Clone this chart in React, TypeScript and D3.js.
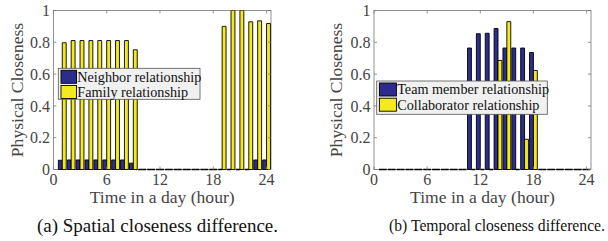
import * as d3 from 'd3';

// hours of the day (categories)
const hours = [1, 2, 3, 4, 5, 6, 7, 8, 9, 10, 11, 12, 13, 14, 15, 16, 17, 18, 19, 20, 21, 22, 23, 24];
const xTicks = [0, 6, 12, 18, 24];
const yTicks = [0, 0.2, 0.4, 0.6, 0.8, 1];

// (a) spatial
const neighbor = [0.058, 0.06, 0.06, 0.06, 0.06, 0.06, 0.06, 0.06, 0.04, 0, 0, 0, 0, 0, 0, 0, 0, 0, 0, 0, 0, 0, 0.06, 0.06];
const family = [0.797, 0.811, 0.811, 0.811, 0.811, 0.811, 0.811, 0.811, 0.753, 0, 0, 0, 0, 0, 0, 0, 0, 0, 0.9, 1, 1, 0.929, 0.935, 0.918];

// (b) temporal
const teamMember = [0, 0, 0, 0, 0, 0, 0, 0, 0, 0, 0.764, 0.854, 0.857, 0.887, 0.764, 0.764, 0.764, 0.736, 0, 0, 0, 0, 0, 0];
const collaborator = [0, 0, 0, 0, 0, 0, 0, 0, 0, 0, 0, 0, 0, 0.686, 0.93, 0, 0.19, 0.623, 0, 0, 0, 0, 0, 0];

const BLUE = '#2c2c8c';
const YELLOW = '#f2ea1a';
const FONT = 'Liberation Serif, Tinos, Times New Roman, Times, DejaVu Serif, serif';
const AXC = '#444';

type PanelProps = {
  left: number;
  right: number;
  series: number[][];
  names: string[];
  legend: { x: number; y: number; w: number; h: number; sw: number };
  ylabelX: number;
  id: string;
};

function Panel({ left, right, series, names, legend, ylabelX, id }: PanelProps) {
  const top = 10.5;
  const bottom = 169.5;
  const x = d3.scaleLinear().domain([0, 24.5]).range([left, right]);
  const y = d3.scaleLinear().domain([0, 1]).range([bottom, top]);
  const groupW = x(0.88) - x(0);
  const sub = d3.scaleBand().domain(['0', '1']).range([-groupW / 2, groupW / 2]);
  const colors = [BLUE, YELLOW];
  const tl = 3;

  const barPath = (cx: number, v: number) => {
    const p = d3.path();
    p.rect(cx, y(v), sub.bandwidth(), y(0) - y(v));
    return p.toString();
  };

  return (
    <g>
      <defs>
        <clipPath id={id}>
          <rect x={left - 1} y={top} width={right - left + 2} height={bottom - top + 2} />
        </clipPath>
      </defs>
      <rect x={left} y={top} width={right - left} height={bottom - top} fill="none" stroke="#777" strokeWidth={0.8} />
      <g clipPath={`url(#${id})`}>
        {series.map((s, si) =>
          s.map((v, i) => (
            <path
              key={`${si}-${i}`}
              d={barPath(x(hours[i]) + (sub(String(si)) as number), v)}
              fill={colors[si]}
              stroke="#000"
              strokeWidth={v === 0 ? 1.4 : 0.9}
            />
          ))
        )}
      </g>
      {xTicks.map(t => (
        <g key={`xt${t}`}>
          <line x1={x(t)} x2={x(t)} y1={bottom} y2={bottom - tl} stroke="#777" strokeWidth={0.8} />
          <line x1={x(t)} x2={x(t)} y1={top} y2={top + tl} stroke="#777" strokeWidth={0.8} />
          <text x={x(t)} y={185} textAnchor="middle" fontSize={16} fill={AXC}>{t}</text>
        </g>
      ))}
      {yTicks.map(t => (
        <g key={`yt${t}`}>
          <line x1={left} x2={left + tl} y1={y(t)} y2={y(t)} stroke="#777" strokeWidth={0.8} />
          <line x1={right} x2={right - tl} y1={y(t)} y2={y(t)} stroke="#777" strokeWidth={0.8} />
          <text x={left - 3.5} y={y(t)} dy="0.35em" textAnchor="end" fontSize={16} fill={AXC}>{t}</text>
        </g>
      ))}
      <text x={(left + right) / 2} y={203} textAnchor="middle" fontSize={17.6} fill={AXC}>Time in a day (hour)</text>
      <text transform={`translate(${ylabelX},${(top + bottom) / 2}) rotate(-90)`} textAnchor="middle" fontSize={17.6} fill={AXC}>Physical Closeness</text>
      <rect x={legend.x} y={legend.y} width={legend.w} height={legend.h} fill="#f0f0f0" stroke="#555" strokeWidth={0.8} />
      {names.map((n, i) => (
        <g key={n}>
          <rect x={legend.x + 2.7} y={legend.y + 2 + i * 15.2} width={legend.sw} height={13} fill={colors[i]} stroke="#000" strokeWidth={0.9} />
          <text x={legend.x + 3.5 + legend.sw} y={legend.y + 13.3 + i * 15.2} fontSize={14.2} fill="#111">{n}</text>
        </g>
      ))}
    </g>
  );
}

export default function App() {
  return (
    <svg width={608} height={241} style={{ position: 'absolute', left: 0, top: 0, background: '#fff', fontFamily: FONT }}>
      <Panel
        id="ca"
        left={53.4}
        right={271}
        series={[neighbor, family]}
        names={['Neighbor relationship', 'Family relationship']}
        legend={{ x: 58.3, y: 68.3, w: 141.7, h: 31, sw: 15.5 }}
        ylabelX={23}
      />
      <Panel
        id="cb"
        left={374}
        right={591}
        series={[teamMember, collaborator]}
        names={['Team member relationship', 'Collaborator relationship']}
        legend={{ x: 376.7, y: 81, w: 170.6, h: 33.3, sw: 17 }}
        ylabelX={342}
      />
      <text x={157.5} y={232} textAnchor="middle" fontSize={18} textLength={241} lengthAdjust="spacingAndGlyphs" fill="#111">(a) Spatial closeness difference.</text>
      <text x={497} y={231} textAnchor="middle" fontSize={16} textLength={216} lengthAdjust="spacingAndGlyphs" fill="#111">(b) Temporal closeness difference.</text>
    </svg>
  );
}
